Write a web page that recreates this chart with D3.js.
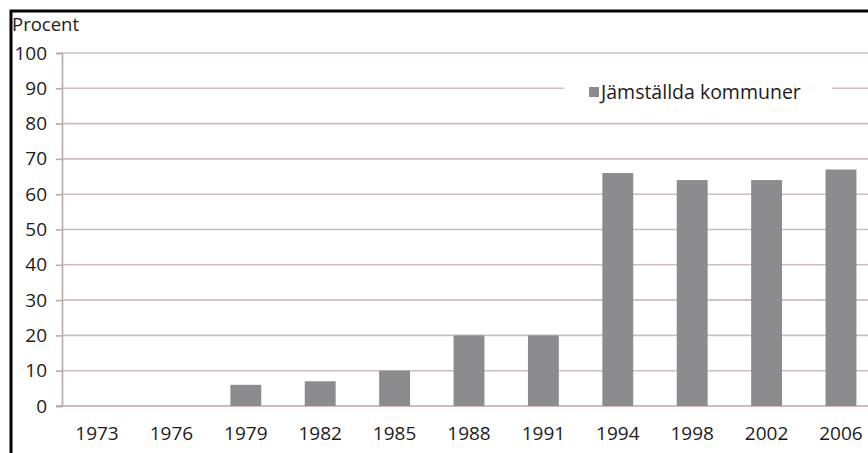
<!DOCTYPE html>
<html><head><meta charset="utf-8">
<script src="https://cdn.jsdelivr.net/npm/d3@7"></script>
<style>body{margin:0;background:#fff;} svg{display:block;} text{font-family:"Open Sans",sans-serif;fill:#1e1b1c;}</style>
</head><body>
<svg id="c" width="868" height="453"></svg>
<script>
const years = ["1973","1976","1979","1982","1985","1988","1991","1994","1998","2002","2006"];
const values = [0,0,6,7,10,20,20,66,64,64,67];
const yTicks = [0,10,20,30,40,50,60,70,80,90,100];
const seriesName = "Jämställda kommuner";
const yLabel = "Procent";

const svg = d3.select("#c");
const x = d3.scaleBand().domain(years).range([60, 878]).paddingInner(0.585).paddingOuter(0.29);
const y = d3.scaleLinear().domain([0,100]).range([406, 53]);
const gridColor = "#cbbfbb";

// frame
svg.append("line").attr("x1",10).attr("x2",868).attr("y1",11).attr("y2",11).attr("stroke","#000").attr("stroke-width",3);
svg.append("line").attr("x1",11).attr("x2",11).attr("y1",10).attr("y2",453).attr("stroke","#000").attr("stroke-width",3);

// gridlines
svg.append("g").selectAll("line").data(yTicks.filter(d=>d>0)).join("line")
  .attr("x1",62).attr("x2",868).attr("y1",d=>y(d)).attr("y2",d=>y(d))
  .attr("stroke",gridColor).attr("stroke-width",1.6);

// y axis
const yAxis = d3.axisLeft(y).tickValues(yTicks).tickSize(6).tickPadding(9);
const gy = svg.append("g").attr("transform","translate(62,0)").call(yAxis);
gy.select(".domain").attr("stroke","#b9aaa6").attr("stroke-width",1.6);
gy.selectAll(".tick line").attr("stroke","#b9aaa6").attr("stroke-width",1.6);
gy.selectAll("text").style("font-size","19px").style("font-family","'Open Sans',sans-serif").attr("fill","#1e1b1c");

// x axis baseline
svg.append("line").attr("x1",56).attr("x2",868).attr("y1",y(0)).attr("y2",y(0)).attr("stroke","#b9aaa6").attr("stroke-width",1.6);

// bars
svg.append("g").selectAll("rect").data(values.map((v,i)=>({k:years[i],v}))).join("rect")
  .attr("x",d=>x(d.k)).attr("width",x.bandwidth())
  .attr("y",d=>y(d.v)).attr("height",d=>y(0)-y(d.v))
  .attr("fill","#8c8c8f");

// x labels
const xAxis = d3.axisBottom(x).tickSize(0).tickPadding(21);
const gx = svg.append("g").attr("transform",`translate(0,${y(0)})`).call(xAxis);
gx.select(".domain").remove();
gx.selectAll("text").style("font-size","19px").style("font-family","'Open Sans',sans-serif").attr("fill","#1e1b1c");

// y label
svg.append("text").attr("x",12).attr("y",31).text(yLabel).style("font-size","18.5px");

// legend
svg.append("rect").attr("x",564).attr("y",76).attr("width",268).attr("height",30).attr("fill","#fff");
svg.append("rect").attr("x",589).attr("y",87).attr("width",10).attr("height",10).attr("fill","#8c8c8f");
svg.append("text").attr("x",601).attr("y",99).text(seriesName).style("font-size","19.5px");
</script>
</body></html>
